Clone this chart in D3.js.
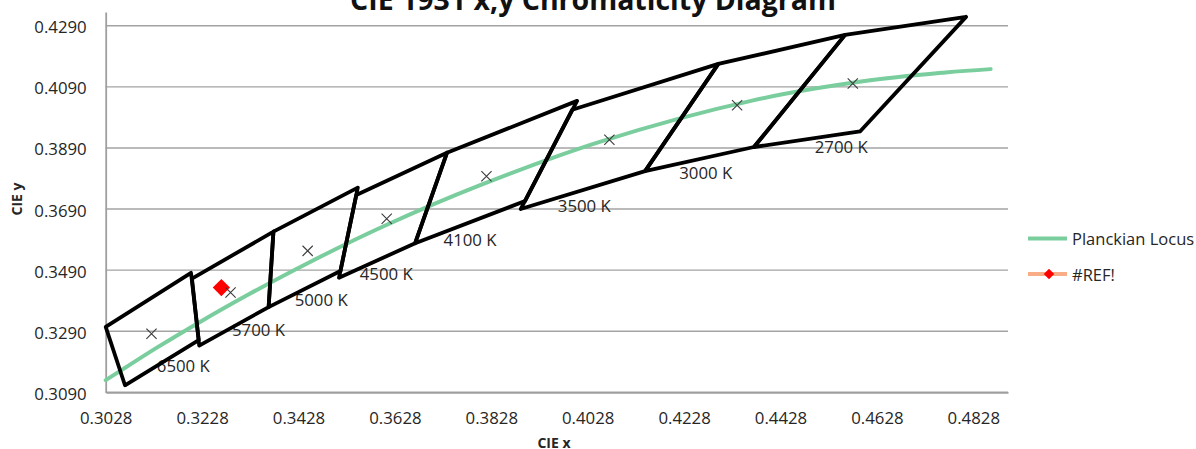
<!DOCTYPE html>
<html>
<head>
<meta charset="utf-8">
<script src="https://cdn.jsdelivr.net/npm/d3@7"></script>
<style>
  html, body { margin: 0; padding: 0; background: #fff; }
  svg { display: block; font-family: "Open Sans", "Liberation Sans", sans-serif; }
</style>
</head>
<body>
<svg id="chart" width="1196" height="449"></svg>
<script>
// ANSI C78.377 chromaticity quadrangles (CIE 1931 x,y)
const cctLabels = ["6500 K", "5700 K", "5000 K", "4500 K", "4100 K", "3500 K", "3000 K", "2700 K"];
const quadX = [
  [0.3205, 0.3028, 0.3068, 0.3221],
  [0.3376, 0.3207, 0.3222, 0.3366],
  [0.3551, 0.3376, 0.3366, 0.3515],
  [0.3736, 0.3548, 0.3512, 0.3670],
  [0.4006, 0.3736, 0.3670, 0.3898],
  [0.4299, 0.3996, 0.3889, 0.4147],
  [0.4562, 0.4299, 0.4147, 0.4373],
  [0.4813, 0.4562, 0.4373, 0.4593]
];
const quadY = [
  [0.3481, 0.3304, 0.3113, 0.3261],
  [0.3616, 0.3462, 0.3243, 0.3369],
  [0.3760, 0.3616, 0.3369, 0.3487],
  [0.3874, 0.3736, 0.3465, 0.3578],
  [0.4044, 0.3874, 0.3578, 0.3716],
  [0.4165, 0.4015, 0.3690, 0.3814],
  [0.4260, 0.4165, 0.3814, 0.3893],
  [0.4319, 0.4260, 0.3893, 0.3944]
];
// nominal centre of each quadrangle
const centerX = [0.3123, 0.3287, 0.3447, 0.3611, 0.3818, 0.4073, 0.4338, 0.4578];
const centerY = [0.3282, 0.3417, 0.3553, 0.3658, 0.3797, 0.3917, 0.4030, 0.4101];
// where each CCT caption sits (left end, vertical middle)
const labelX = [0.3134, 0.3290, 0.3420, 0.3555, 0.3729, 0.3966, 0.4218, 0.4499];
const labelY = [0.3179, 0.3296, 0.3394, 0.3480, 0.3589, 0.3703, 0.3808, 0.3896];

// Planckian locus
const planckX = [0.3028, 0.3064, 0.3135, 0.3221, 0.3324, 0.3451, 0.3608, 0.3805, 0.4053, 0.4369, 0.4599, 0.4770, 0.4864];
const planckY = [0.3130, 0.3166, 0.3237, 0.3318, 0.3410, 0.3516, 0.3636, 0.3768, 0.3910, 0.4045, 0.4108, 0.4137, 0.4148];

// measured sample point
const refX = [0.3268];
const refY = [0.3433];

// axis ticks
const xTicks = [0.3028, 0.3228, 0.3428, 0.3628, 0.3828, 0.4028, 0.4228, 0.4428, 0.4628, 0.4828];
const yTicks = [0.3090, 0.3290, 0.3490, 0.3690, 0.3890, 0.4090, 0.4290];

const svg = d3.select("#chart");
const plotLeft = 105.7, plotRight = 1008, plotBottom = 392.3, plotTop = 12;

const x = d3.scaleLinear().domain([0.3028, 0.49]).range([plotLeft, plotRight]);
const y = d3.scaleLinear().domain([0.309, 0.4335]).range([plotBottom, plotTop]);

const gridColor = "#a3a3a3";
const textColor = "#262626";

// horizontal gridlines
svg.append("g").selectAll("line").data(yTicks).join("line")
  .attr("x1", plotLeft).attr("x2", plotRight)
  .attr("y1", d => y(d)).attr("y2", d => y(d))
  .attr("stroke", gridColor).attr("stroke-width", 1.4);

// axes
const xAxis = d3.axisBottom(x).tickValues(xTicks).tickFormat(d3.format(".4f")).tickSize(0).tickPadding(19.5);
const yAxis = d3.axisLeft(y).tickValues(yTicks).tickFormat(d3.format(".4f")).tickSize(0).tickPadding(19);

const gx = svg.append("g").attr("transform", `translate(0,${plotBottom})`).call(xAxis);
const gy = svg.append("g").attr("transform", `translate(${plotLeft},0)`).call(yAxis);
[gx, gy].forEach(g => {
  g.select(".domain").attr("stroke", "#9e9e9e").attr("stroke-width", 1.8);
  g.selectAll("text").attr("font-size", 16.8).attr("fill", textColor)
    .attr("font-family", "'Open Sans', sans-serif");
});
gy.selectAll("text").attr("dy", "0.42em");

// axis titles
svg.append("text").attr("x", 554).attr("y", 448)
  .attr("text-anchor", "middle").attr("font-weight", "bold").attr("font-size", 14)
  .attr("fill", textColor).text("CIE x");
svg.append("text").attr("transform", "translate(22,199) rotate(-90)")
  .attr("text-anchor", "middle").attr("font-weight", "bold").attr("font-size", 14)
  .attr("fill", textColor).text("CIE y");

// chart title, sized to its span
const title = svg.append("text").attr("x", 593).attr("y", 10)
  .attr("text-anchor", "middle").attr("font-weight", "bold").attr("font-size", 24)
  .attr("fill", "#111").text("CIE 1931 x,y Chromaticity Diagram");
const tw = title.node().getComputedTextLength();
title.attr("font-size", 24 * 486 / tw);

// CCT captions (under the outlines)
svg.append("g").selectAll("text").data(cctLabels).join("text")
  .attr("x", (d, i) => x(labelX[i]))
  .attr("y", (d, i) => y(labelY[i]))
  .attr("dominant-baseline", "central")
  .attr("font-size", 16.8).attr("fill", textColor)
  .text(d => d);

// Planckian locus
const locus = d3.range(planckX.length).map(i => [planckX[i], planckY[i]]);
svg.append("path").datum(locus)
  .attr("d", d3.line().x(d => x(d[0])).y(d => y(d[1])).curve(d3.curveCatmullRom))
  .attr("fill", "none").attr("stroke", "#7acd9d").attr("stroke-width", 4)
  .attr("stroke-linecap", "round");

// quadrangle outlines
svg.append("g").selectAll("path").data(quadX).join("path")
  .attr("d", (qx, i) => {
    const pts = qx.map((v, j) => [x(v), y(quadY[i][j])]);
    return d3.line()(pts.concat([pts[0]]));
  })
  .attr("fill", "none").attr("stroke", "#000").attr("stroke-width", 3.8)
  .attr("stroke-linejoin", "round").attr("stroke-linecap", "round");

// red sample marker
const diamond = d3.symbol().type(d3.symbolDiamond2).size(190);
svg.append("g").selectAll("path").data(refX).join("path")
  .attr("d", diamond)
  .attr("transform", (d, i) => `translate(${x(d)},${y(refY[i])})`)
  .attr("fill", "#ff0000");

// centre markers
const cross = d3.symbol().type(d3.symbolX).size(70);
svg.append("g").selectAll("path").data(centerX).join("path")
  .attr("d", cross)
  .attr("transform", (d, i) => `translate(${x(d)},${y(centerY[i])})`)
  .attr("fill", "none").attr("stroke", "#3a3a3a").attr("stroke-width", 1.1);

// legend
const legend = svg.append("g");
legend.append("line").attr("x1", 1028).attr("x2", 1067).attr("y1", 238.5).attr("y2", 238.5)
  .attr("stroke", "#7acd9d").attr("stroke-width", 4);
legend.append("text").attr("x", 1072).attr("y", 238.5).attr("dominant-baseline", "central")
  .attr("font-size", 16.5).attr("fill", textColor).text("Planckian Locus");
legend.append("line").attr("x1", 1028).attr("x2", 1067).attr("y1", 274).attr("y2", 274)
  .attr("stroke", "#f8ad86").attr("stroke-width", 4);
legend.append("path").attr("d", d3.symbol().type(d3.symbolDiamond2).size(70))
  .attr("transform", "translate(1049,274)").attr("fill", "#ff0000");
legend.append("text").attr("x", 1072).attr("y", 274).attr("dominant-baseline", "central")
  .attr("font-size", 16.5).attr("fill", textColor).text("#REF!");
</script>
</body>
</html>
